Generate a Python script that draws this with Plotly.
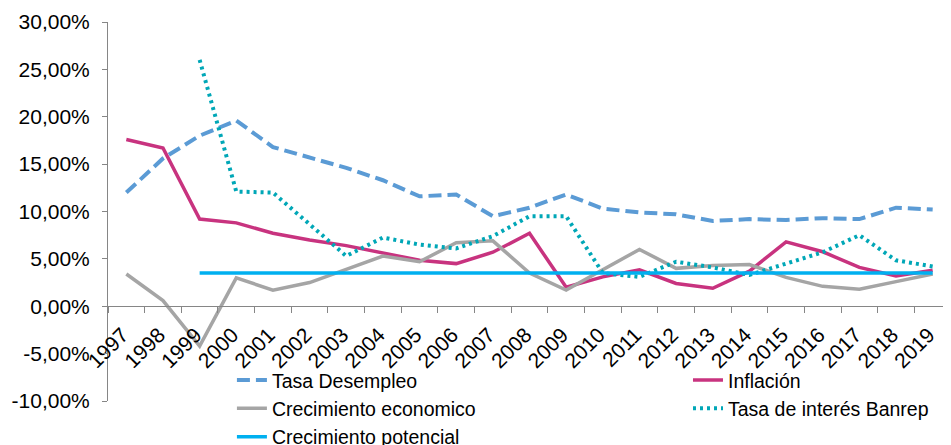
import plotly.graph_objects as go

years = ["1997", "1998", "1999", "2000", "2001", "2002", "2003", "2004", "2005", "2006",
         "2007", "2008", "2009", "2010", "2011", "2012", "2013", "2014", "2015", "2016",
         "2017", "2018", "2019"]

desempleo = [12.0, 15.6, 18.0, 19.6, 16.8, 15.7, 14.6, 13.3, 11.6, 11.8, 9.5, 10.4,
             11.8, 10.3, 9.9, 9.7, 9.0, 9.2, 9.1, 9.3, 9.2, 10.4, 10.2]
inflacion = [17.6, 16.7, 9.2, 8.8, 7.7, 7.0, 6.4, 5.6, 4.85, 4.5, 5.7, 7.7, 2.0, 3.1,
             3.85, 2.4, 1.9, 3.7, 6.8, 5.75, 4.1, 3.2, 3.8]
crecimiento = [3.4, 0.6, -4.2, 3.0, 1.7, 2.5, 3.9, 5.3, 4.7, 6.7, 6.9, 3.5, 1.7, 3.9,
               6.0, 4.0, 4.3, 4.4, 3.05, 2.1, 1.8, 2.6, 3.4]
tasa_interes = [None, None, 26.0, 12.1, 12.0, 8.7, 5.3, 7.25, 6.5, 6.1, 7.4, 9.5, 9.5,
                3.5, 3.1, 4.7, 4.1, 3.3, 4.5, 5.7, 7.5, 4.85, 4.2]
potencial = [None, None, 3.5, 3.5, 3.5, 3.5, 3.5, 3.5, 3.5, 3.5, 3.5, 3.5, 3.5, 3.5,
             3.5, 3.5, 3.5, 3.5, 3.5, 3.5, 3.5, 3.5, 3.5]

y_ticks = [-10, -5, 0, 5, 10, 15, 20, 25, 30]
y_tick_labels = ["-10,00%", "-5,00%", "0,00%", "5,00%", "10,00%", "15,00%",
                 "20,00%", "25,00%", "30,00%"]

FONT = "Liberation Sans, Arial, sans-serif"
AXIS = "#868686"

fig = go.Figure()
fig.add_trace(go.Scatter(x=years, y=desempleo, name="Tasa Desempleo", mode="lines",
                         line=dict(color="#5B9BD5", width=4, dash="13px,6px"),
                         legend="legend"))
fig.add_trace(go.Scatter(x=years, y=inflacion, name="Inflación", mode="lines",
                         line=dict(color="#C8337F", width=3.5),
                         legend="legend2"))
fig.add_trace(go.Scatter(x=years, y=crecimiento, name="Crecimiento economico", mode="lines",
                         line=dict(color="#A5A5A5", width=3.5),
                         legend="legend"))
fig.add_trace(go.Scatter(x=years, y=tasa_interes, name="Tasa de interés Banrep", mode="lines",
                         line=dict(color="#00A7B7", width=4, dash="3px,4px"),
                         legend="legend2"))
fig.add_trace(go.Scatter(x=years, y=potencial, name="Crecimiento potencial", mode="lines",
                         line=dict(color="#00B0F0", width=3.5),
                         legend="legend"))

legend_common = dict(orientation="v", font=dict(family=FONT, size=19.5, color="#000000"),
                     bgcolor="rgba(0,0,0,0)", tracegroupgap=0,
                     xanchor="left", yanchor="top")

# page body adds an 8px offset, so the figure is sized to fill the rest of the window
fig.update_layout(
    width=943, height=437,
    margin=dict(l=100, r=0, t=14, b=44, autoexpand=False),
    paper_bgcolor="white", plot_bgcolor="white",
    font=dict(family=FONT, size=20, color="#000000"),
    legend=dict(x=0.147, y=0.106, **legend_common),
    legend2=dict(x=0.688, y=0.106, **legend_common),
    xaxis=dict(type="category", categoryorder="array", categoryarray=years,
               range=[-0.5, len(years) - 0.5], anchor="free", position=0.25,
               showline=True, linecolor=AXIS, linewidth=1,
               ticks="outside", tickson="boundaries", ticklen=6, tickcolor=AXIS,
               tickangle=-45, ticklabelstandoff=7, ticklabelshift=-4,
               tickfont=dict(family=FONT, size=21, color="#000000"),
               showgrid=False, zeroline=False, automargin=False),
    yaxis=dict(range=[-10, 30], tickmode="array", tickvals=y_ticks, ticktext=y_tick_labels,
               showline=True, linecolor=AXIS, linewidth=1,
               ticks="outside", ticklen=5, tickcolor=AXIS, ticklabelstandoff=8,
               tickfont=dict(family=FONT, size=21, color="#000000"),
               showgrid=False, zeroline=False, automargin=False),
)

fig.write_html("out.html")
